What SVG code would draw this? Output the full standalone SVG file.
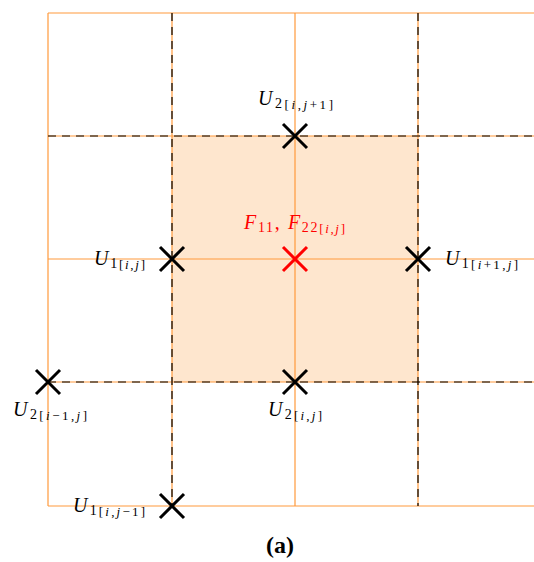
<svg xmlns="http://www.w3.org/2000/svg" width="534" height="562" viewBox="0 0 534 562">
<style>
.grid{stroke:#ff9a3c;stroke-width:1.2;fill:none}
.dash{stroke:#000;stroke-width:1.2;stroke-dasharray:8 6;fill:none}
.x{stroke:#000;stroke-width:3;fill:none}
.xr{stroke:#ff0000;stroke-width:3;fill:none}
text{font-family:"Liberation Serif","DejaVu Serif",serif;fill:#000}
.m{font-size:20px}
.it{font-style:italic}
.s{font-size:14px}
.ss{font-size:13px}
.red{fill:#ff0000}
.cap{font-size:24px;font-weight:bold}
</style>
<rect x="172" y="136" width="246" height="246" fill="#fee6ce"/>
<g id="connectors">
<path class="grid" d="M48 13V506M172 13V506M295 13V506M418 13V506M48 13H534M48 136H534M48 259H534M48 382H534M48 506H534"/>
<path class="dash" d="M172 13V506M418 13V506M48 136H534M48 382H534"/>
</g>
<g id="n-u2-ij1"><path class="x" d="M283 124L307 148M307 124L283 148"/>
<text class="m" x="258" y="105" textLength="75" lengthAdjust="spacing"><tspan class="it">U</tspan><tspan class="s" dy="3">2</tspan><tspan class="ss" dy="1">[<tspan class="it">i</tspan>,<tspan class="it">j</tspan>+1]</tspan></text></g>
<g id="n-f"><path class="xr" d="M283 247L307 271M307 247L283 271"/>
<text class="m red" x="244" y="229" textLength="101" lengthAdjust="spacing"><tspan class="it">F</tspan><tspan class="s" dy="3">11</tspan><tspan dy="-3">, </tspan><tspan class="it">F</tspan><tspan class="s" dy="3">22</tspan><tspan class="ss" dy="1">[<tspan class="it">i</tspan>,<tspan class="it">j</tspan>]</tspan></text></g>
<g id="n-u1-ij"><path class="x" d="M160 247L184 271M184 247L160 271"/>
<text class="m" x="94" y="265" textLength="51" lengthAdjust="spacing"><tspan class="it">U</tspan><tspan class="s" dy="3">1</tspan><tspan class="ss" dy="1">[<tspan class="it">i</tspan>,<tspan class="it">j</tspan>]</tspan></text></g>
<g id="n-u1-i1j"><path class="x" d="M406 247L430 271M430 247L406 271"/>
<text class="m" x="445" y="265" textLength="73" lengthAdjust="spacing"><tspan class="it">U</tspan><tspan class="s" dy="3">1</tspan><tspan class="ss" dy="1">[<tspan class="it">i</tspan>+1,<tspan class="it">j</tspan>]</tspan></text></g>
<g id="n-u2-im1j"><path class="x" d="M36 370L60 394M60 370L36 394"/>
<text class="m" x="13" y="416" textLength="74" lengthAdjust="spacing"><tspan class="it">U</tspan><tspan class="s" dy="3">2</tspan><tspan class="ss" dy="1">[<tspan class="it">i</tspan>−1,<tspan class="it">j</tspan>]</tspan></text></g>
<g id="n-u2-ij"><path class="x" d="M283 370L307 394M307 370L283 394"/>
<text class="m" x="268" y="416" textLength="54" lengthAdjust="spacing"><tspan class="it">U</tspan><tspan class="s" dy="3">2</tspan><tspan class="ss" dy="1">[<tspan class="it">i</tspan>,<tspan class="it">j</tspan>]</tspan></text></g>
<g id="n-u1-ijm1"><path class="x" d="M160 494L184 518M184 494L160 518"/>
<text class="m" x="73" y="512" textLength="72" lengthAdjust="spacing"><tspan class="it">U</tspan><tspan class="s" dy="3">1</tspan><tspan class="ss" dy="1">[<tspan class="it">i</tspan>,<tspan class="it">j</tspan>−1]</tspan></text></g>
<text class="cap" x="280" y="553" text-anchor="middle">(a)</text>
</svg>
